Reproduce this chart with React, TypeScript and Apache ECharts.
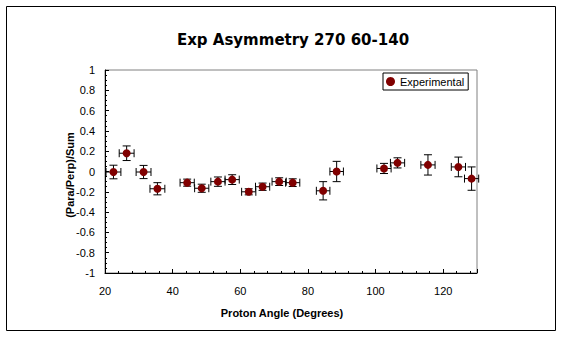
import React, { useEffect, useRef } from "react";
import * as echarts from "echarts";

const angles = [22.5, 26.4, 31.4, 35.5, 44.3, 48.6, 53.4, 57.6, 62.5, 66.6, 71.5, 75.5, 84.5, 88.5, 102.5, 106.5, 115.5, 124.5, 128.4];
const asym = [-0.005, 0.18, -0.005, -0.17, -0.11, -0.165, -0.1, -0.08, -0.2, -0.15, -0.1, -0.11, -0.19, 0.0, 0.03, 0.085, 0.065, 0.045, -0.07];
const yErr = [0.067, 0.072, 0.065, 0.06, 0.035, 0.04, 0.046, 0.048, 0.03, 0.036, 0.038, 0.038, 0.09, 0.1, 0.05, 0.05, 0.1, 0.097, 0.115];
const xErr = [2.2, 2.2, 2.2, 2.2, 2.1, 2.1, 2.1, 2.1, 2.1, 2.1, 2.1, 2.1, 2.0, 2.0, 2.1, 2.1, 2.1, 2.1, 2.1];

const FONT = "Liberation Sans, Arial, sans-serif";

export default function App() {
  const ref = useRef<HTMLDivElement>(null);
  useEffect(() => {
    const chart = echarts.init(ref.current!, null, { renderer: "svg" });
    const errData = angles.map((a, i) => [a, asym[i], xErr[i], yErr[i]]);
    chart.setOption({
      animation: false,
      backgroundColor: "#ffffff",
      grid: { left: 105, top: 70, width: 372, height: 203, show: true, borderColor: "#808080", borderWidth: 1, backgroundColor: "#ffffff" },
      xAxis: {
        type: "value",
        min: 20,
        max: 130,
        interval: 20,
        axisLine: { show: true, onZero: false, lineStyle: { color: "#000", width: 1 } },
        axisTick: { show: true, inside: true, length: 4, lineStyle: { color: "#000" } },
        minorTick: { show: true, splitNumber: 5, length: 2, lineStyle: { color: "#000" } },
        splitLine: { show: false },
        axisLabel: { color: "#000", fontFamily: FONT, fontSize: 11, margin: 12, showMaxLabel: false },
      },
      yAxis: {
        type: "value",
        min: -1,
        max: 1,
        interval: 0.2,
        axisLine: { show: true, onZero: false, lineStyle: { color: "#000", width: 1 } },
        axisTick: { show: true, inside: true, length: 4, lineStyle: { color: "#000" } },
        minorTick: { show: true, splitNumber: 4, length: 2, lineStyle: { color: "#000" } },
        splitLine: { show: false },
        axisLabel: {
          color: "#000",
          fontFamily: FONT,
          fontSize: 11,
          margin: 10,
          formatter: (v: number) => String(Math.round(v * 10) / 10),
        },
      },
      legend: {
        left: 383,
        top: 73,
        orient: "vertical",
        backgroundColor: "#fff",
        borderColor: "#000",
        borderWidth: 1,
        padding: [3, 4, 3, 3],
        itemWidth: 9,
        itemHeight: 9,
        itemGap: 2,
        textStyle: { color: "#000", fontFamily: FONT, fontSize: 11 },
        data: [{ name: "Experimental", icon: "circle" }],
      },
      series: [
        {
          type: "custom",
          name: "errors",
          data: errData,
          z: 2,
          renderItem: (params: any, api: any) => {
            const x = api.value(0), y = api.value(1), dx = api.value(2), dy = api.value(3);
            const l = api.coord([x - dx, y]);
            const r = api.coord([x + dx, y]);
            const t = api.coord([x, y + dy]);
            const b = api.coord([x, y - dy]);
            const c = 4;
            const style = { stroke: "#000", lineWidth: 1, fill: null };
            return {
              type: "group",
              children: [
                { type: "line", shape: { x1: l[0], y1: l[1], x2: r[0], y2: r[1] }, style },
                { type: "line", shape: { x1: l[0], y1: l[1] - c, x2: l[0], y2: l[1] + c }, style },
                { type: "line", shape: { x1: r[0], y1: r[1] - c, x2: r[0], y2: r[1] + c }, style },
                { type: "line", shape: { x1: t[0], y1: t[1], x2: b[0], y2: b[1] }, style },
                { type: "line", shape: { x1: t[0] - c, y1: t[1], x2: t[0] + c, y2: t[1] }, style },
                { type: "line", shape: { x1: b[0] - c, y1: b[1], x2: b[0] + c, y2: b[1] }, style },
              ],
            };
          },
        },
        {
          type: "scatter",
          name: "Experimental",
          data: angles.map((a, i) => [a, asym[i]]),
          symbol: "circle",
          symbolSize: 8,
          z: 3,
          itemStyle: { color: "#800000", opacity: 1 },
        },
      ],
      graphic: [
        {
          type: "rect",
          shape: { x: 6.5, y: 6.5, width: 549, height: 324 },
          style: { fill: null, stroke: "#000", lineWidth: 1 },
          z: -10,
        },
        {
          type: "text",
          x: 293,
          y: 40,
          style: { text: "Exp Asymmetry 270 60-140", fontFamily: "DejaVu Sans", fontSize: 15, fontWeight: "bold", fill: "#000", align: "center", verticalAlign: "middle" },
        },
        {
          type: "text",
          x: 282,
          y: 313,
          style: { text: "Proton Angle (Degrees)", fontFamily: FONT, fontSize: 11, fontWeight: "bold", fill: "#000", align: "center", verticalAlign: "middle" },
        },
        {
          type: "text",
          x: 70,
          y: 175,
          rotation: Math.PI / 2,
          style: { text: "(Para/Perp)/Sum", fontFamily: FONT, fontSize: 11, fontWeight: "bold", fill: "#000", align: "center", verticalAlign: "middle" },
        },
      ],
    });
    return () => chart.dispose();
  }, []);
  return <div ref={ref} style={{ position: "fixed", left: 0, top: 0, width: 563, height: 338 }} />;
}
